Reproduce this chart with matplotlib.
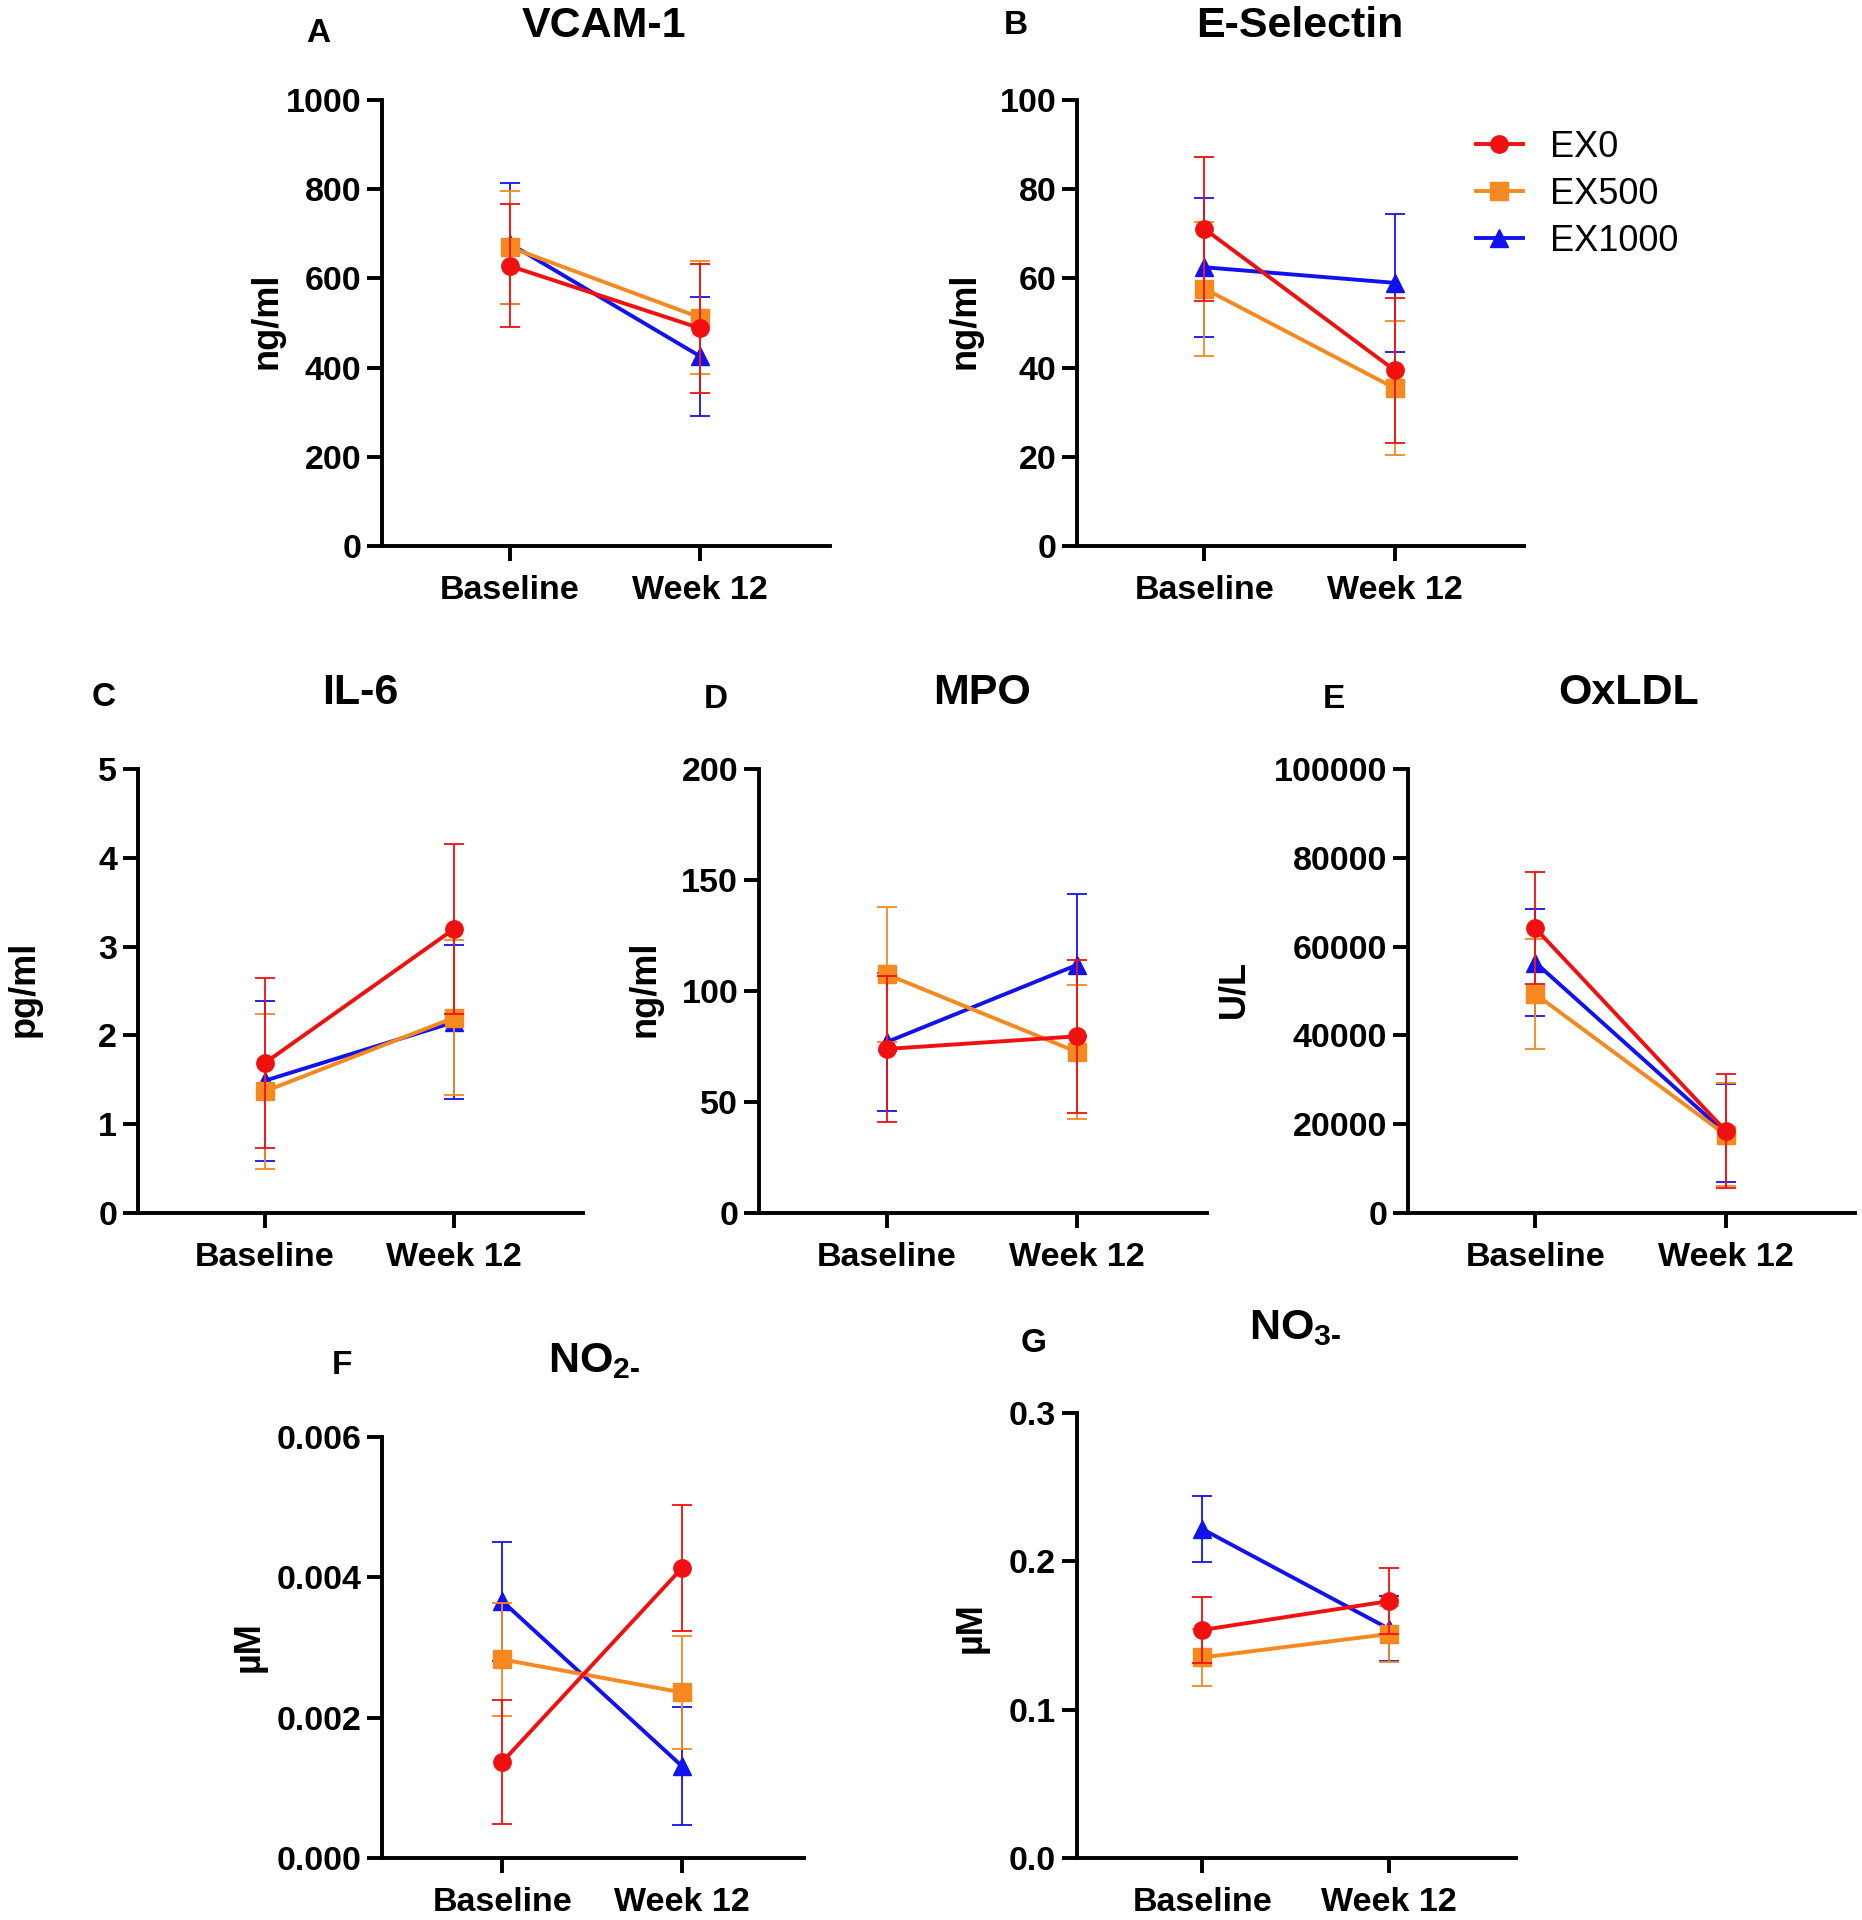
import matplotlib
matplotlib.use("Agg")
import matplotlib.pyplot as plt
from matplotlib.lines import Line2D

plt.rcParams['font.family'] = ['Liberation Sans', 'DejaVu Sans']
plt.rcParams['mathtext.fontset'] = 'custom'
plt.rcParams['mathtext.rm'] = 'Liberation Sans:bold'
plt.rcParams['mathtext.bf'] = 'Liberation Sans:bold'

timepoints = ["Baseline", "Week 12"]
groups = ["EX0", "EX500", "EX1000"]
colors = {"EX0": "#f01010", "EX500": "#f5891f", "EX1000": "#1212ee"}
markers = {"EX0": "o", "EX500": "s", "EX1000": "^"}

# mean and SD per group, [Baseline, Week 12]
vcam_mean = {"EX0": [628, 488], "EX500": [670, 512], "EX1000": [678, 425]}
vcam_sd = {"EX0": [138, 145], "EX500": [127, 127], "EX1000": [135, 133]}

esel_mean = {"EX0": [71.1, 39.4], "EX500": [57.7, 35.4], "EX1000": [62.5, 59.0]}
esel_sd = {"EX0": [16.2, 16.3], "EX500": [15.0, 15.0], "EX1000": [15.6, 15.5]}

il6_mean = {"EX0": [1.69, 3.20], "EX500": [1.37, 2.20], "EX1000": [1.49, 2.15]}
il6_sd = {"EX0": [0.96, 0.96], "EX500": [0.87, 0.87], "EX1000": [0.90, 0.87]}

mpo_mean = {"EX0": [73.9, 79.6], "EX500": [107.5, 72.5], "EX1000": [77.0, 111.8]}
mpo_sd = {"EX0": [33.0, 34.5], "EX500": [30.5, 30.0], "EX1000": [31.0, 32.0]}

oxldl_mean = {"EX0": [64100, 18500], "EX500": [49300, 17600], "EX1000": [56400, 18000]}
oxldl_sd = {"EX0": [12600, 12800], "EX500": [12300, 11600], "EX1000": [12000, 11000]}

no2_mean = {"EX0": [0.00137, 0.00413], "EX500": [0.00283, 0.00236], "EX1000": [0.00366, 0.00131]}
no2_sd = {"EX0": [0.00088, 0.00090], "EX500": [0.00081, 0.00081], "EX1000": [0.00085, 0.00084]}

no3_mean = {"EX0": [0.1537, 0.1732], "EX500": [0.1352, 0.1510], "EX1000": [0.2218, 0.1545]}
no3_sd = {"EX0": [0.0225, 0.0222], "EX500": [0.0195, 0.0190], "EX1000": [0.0220, 0.0220]}

W, H = 1862, 1920


def add_axes(fig, left, bottom, top, right):
    return fig.add_axes([left / W, 1 - bottom / H, (right - left) / W, (bottom - top) / H])


def draw_panel(ax, means, sds, ymax, yticks, ylabels):
    x = list(range(len(timepoints)))
    for z, g in enumerate(["EX1000", "EX500", "EX0"]):
        ax.errorbar(x, means[g], yerr=sds[g], color=colors[g], marker=markers[g],
                    markersize=12.5, linewidth=2.8, elinewidth=1.3, capsize=7,
                    capthick=1.3, zorder=3 + z, label=g, clip_on=False)
    ax.set_xlim(-0.67, 1.68)
    ax.set_ylim(0, ymax)
    ax.set_xticks(x)
    ax.set_xticklabels(timepoints, fontsize=24.5, fontweight="bold")
    ax.set_yticks(yticks)
    ax.set_yticklabels(ylabels, fontsize=24.5, fontweight="bold")
    for s in ["top", "right"]:
        ax.spines[s].set_visible(False)
    for s in ["left", "bottom"]:
        ax.spines[s].set_linewidth(2.8)
    ax.tick_params(axis="y", length=11, width=2.8, pad=4)
    ax.tick_params(axis="x", length=11, width=2.8, pad=10)


fig = plt.figure(figsize=(W / 100, H / 100), dpi=100)

axA = add_axes(fig, 382, 546, 100, 830)
axB = add_axes(fig, 1077, 546, 100, 1524)
axC = add_axes(fig, 138, 1213, 769, 583)
axD = add_axes(fig, 759, 1213, 769, 1207)
axE = add_axes(fig, 1408, 1213, 769, 1855)
axF = add_axes(fig, 382, 1858, 1437, 804)
axG = add_axes(fig, 1077, 1858, 1413, 1516)

draw_panel(axA, vcam_mean, vcam_sd, 1000, [0, 200, 400, 600, 800, 1000],
           ["0", "200", "400", "600", "800", "1000"])
draw_panel(axB, esel_mean, esel_sd, 100, [0, 20, 40, 60, 80, 100],
           ["0", "20", "40", "60", "80", "100"])
draw_panel(axC, il6_mean, il6_sd, 5, [0, 1, 2, 3, 4, 5], ["0", "1", "2", "3", "4", "5"])
draw_panel(axD, mpo_mean, mpo_sd, 200, [0, 50, 100, 150, 200], ["0", "50", "100", "150", "200"])
draw_panel(axE, oxldl_mean, oxldl_sd, 100000, [0, 20000, 40000, 60000, 80000, 100000],
           ["0", "20000", "40000", "60000", "80000", "100000"])
draw_panel(axF, no2_mean, no2_sd, 0.006, [0, 0.002, 0.004, 0.006],
           ["0.000", "0.002", "0.004", "0.006"])
draw_panel(axG, no3_mean, no3_sd, 0.3, [0, 0.1, 0.2, 0.3], ["0.0", "0.1", "0.2", "0.3"])

# legend: line + marker only
handles = [Line2D([], [], color=colors[g], marker=markers[g], markersize=12.5, linewidth=2.8)
           for g in groups]
fig.legend(handles, groups, loc="upper left",
           bbox_to_anchor=(1476 / W, 1 - 130 / H), frameon=False, fontsize=26,
           handlelength=1.3, handletextpad=0.75, labelspacing=0.33,
           borderpad=0, borderaxespad=0)

# titles and panel letters
titles = [("A", 318, 33, "VCAM-1", 604, 26),
          ("B", 1016, 26, "E-Selectin", 1300, 26),
          ("C", 104, 698, "IL-6", 360, 693),
          ("D", 716, 700, "MPO", 982, 693),
          ("E", 1334, 700, "OxLDL", 1629, 693),
          ("F", 342, 1365, r"NO$_{2\text{-}}$", 594, 1361),
          ("G", 1034, 1343, r"NO$_{3\text{-}}$", 1295, 1328)]
for letter, lx, ly, title, tx, ty in titles:
    fig.text(lx / W, 1 - ly / H, letter, fontsize=24, fontweight="bold", ha="center", va="center")
    fig.text(tx / W, 1 - ty / H, title, fontsize=31, fontweight="bold", ha="center", va="center")

ylabels = [("ng/ml", 267, 321), ("ng/ml", 965, 321), ("pg/ml", 24, 989),
           ("ng/ml", 645, 989), ("U/L", 1234, 989), ("µM", 249, 1647), ("µM", 971, 1628)]
for txt, x, y in ylabels:
    fig.text(x / W, 1 - y / H, txt, fontsize=26, fontweight="bold", rotation=90,
             ha="center", va="center")

fig.savefig("out.png", dpi=100)
